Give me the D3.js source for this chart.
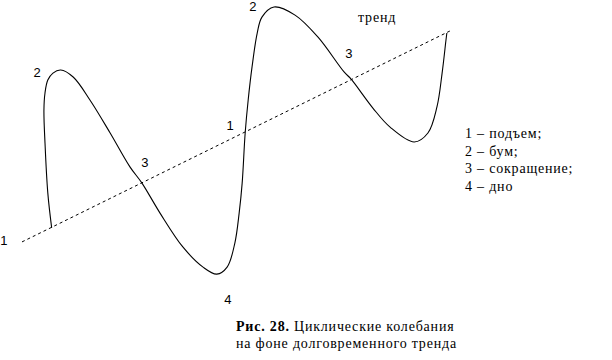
<!DOCTYPE html>
<html><head><meta charset="utf-8">
<script src="https://cdn.jsdelivr.net/npm/d3@7"></script>
<style>
html,body{margin:0;padding:0;background:#fff;}
svg{display:block;}
.serif{font-family:"Liberation Serif","Times New Roman","DejaVu Serif",serif;font-size:14px;letter-spacing:0.8px;}
.sans{font-family:"Liberation Sans",Arial,sans-serif;font-size:13px;}
</style>
</head><body>
<div id="chart"></div>
<script>
// Cycle curve: time (t) and level (v) in arbitrary units
const cycleT = [6.9, 6.0, 5.35, 5.1, 5.35, 6.0, 7.2, 9.0, 11.9, 15.8, 20.5, 25.1, 27.9, 32.1, 37.4, 42.1, 45.3, 47.7, 49.5, 50.5, 51.2, 51.9, 52.6, 53.5, 54.7, 55.8, 58.6, 63.5, 68.8, 74.9, 76.5, 81.6, 85.6, 91.2, 94.4, 96.5, 97.7, 98.6, 98.8];
const cycleV = [18.6, 31.1, 48.9, 60.7, 66.8, 71.4, 73.9, 75.0, 72.5, 64.3, 52.5, 40.4, 34.6, 23.9, 11.8, 4.6, 2.1, 4.6, 13.2, 23.9, 34.6, 52.5, 64.3, 76.1, 88.2, 93.9, 97.5, 94.6, 86.8, 74.3, 71.8, 61.4, 54.6, 49.3, 52.5, 61.8, 73.9, 85.7, 88.2];
// Long-term trend (start and end)
const trendT = [0, 100];
const trendV = [13.6, 89.3];
// Phase labels placed on the chart (data units)
const phaseText = ["1", "2", "3", "1", "2", "3", "4"];
const phaseT = [-4.2, 3.5, 28.6, 48.4, 53.7, 76.0, 47.9];
const phaseV = [12.5, 72.5, 40.4, 53.6, 96.1, 79.3, -8.6];
const trendLabel = "тренд";
const legendItems = ["1 – подъем;", "2 – бум;", "3 – сокращение;", "4 – дно"];
const captionBold = "Рис. 28.";
const captionRest = " Циклические колебания";
const captionLine2 = "на фоне долговременного тренда";

const W = 612, H = 360;
const svg = d3.select("#chart").append("svg").attr("width", W).attr("height", H);

const x = d3.scaleLinear().domain([0, 100]).range([22, 452]);
const y = d3.scaleLinear().domain([0, 100]).range([280, 0]);

const cycle = cycleT.map((t, i) => [t, cycleV[i]]);
const trend = trendT.map((t, i) => [t, trendV[i]]);

const line = d3.line().x(d => x(d[0])).y(d => y(d[1])).curve(d3.curveCatmullRom.alpha(0.5));

svg.append("path").datum(trend)
  .attr("d", d3.line().x(d => x(d[0])).y(d => y(d[1])))
  .attr("fill", "none").attr("stroke", "#000").attr("stroke-width", 1)
  .attr("stroke-dasharray", "3,3");

svg.append("path").datum(cycle)
  .attr("d", line)
  .attr("fill", "none").attr("stroke", "#000").attr("stroke-width", 1.1);

svg.selectAll("text.phase").data(phaseText).enter().append("text")
  .attr("class", "phase sans")
  .attr("x", (d, i) => x(phaseT[i]))
  .attr("y", (d, i) => y(phaseV[i]))
  .attr("text-anchor", "middle")
  .text(d => d);

svg.append("text").attr("class", "serif").attr("x", 358).attr("y", 22).text(trendLabel);

svg.selectAll("text.leg").data(legendItems).enter().append("text")
  .attr("class", "leg serif")
  .attr("x", 465).attr("y", (d, i) => 138 + i * 17.7)
  .text(d => d);

const cap = svg.append("text").attr("class", "serif").attr("x", 236).attr("y", 331);
cap.append("tspan").attr("font-weight", "bold").text(captionBold);
cap.append("tspan").text(captionRest);

svg.append("text").attr("class", "serif").attr("x", 236).attr("y", 348).text(captionLine2);
</script>
</body></html>
